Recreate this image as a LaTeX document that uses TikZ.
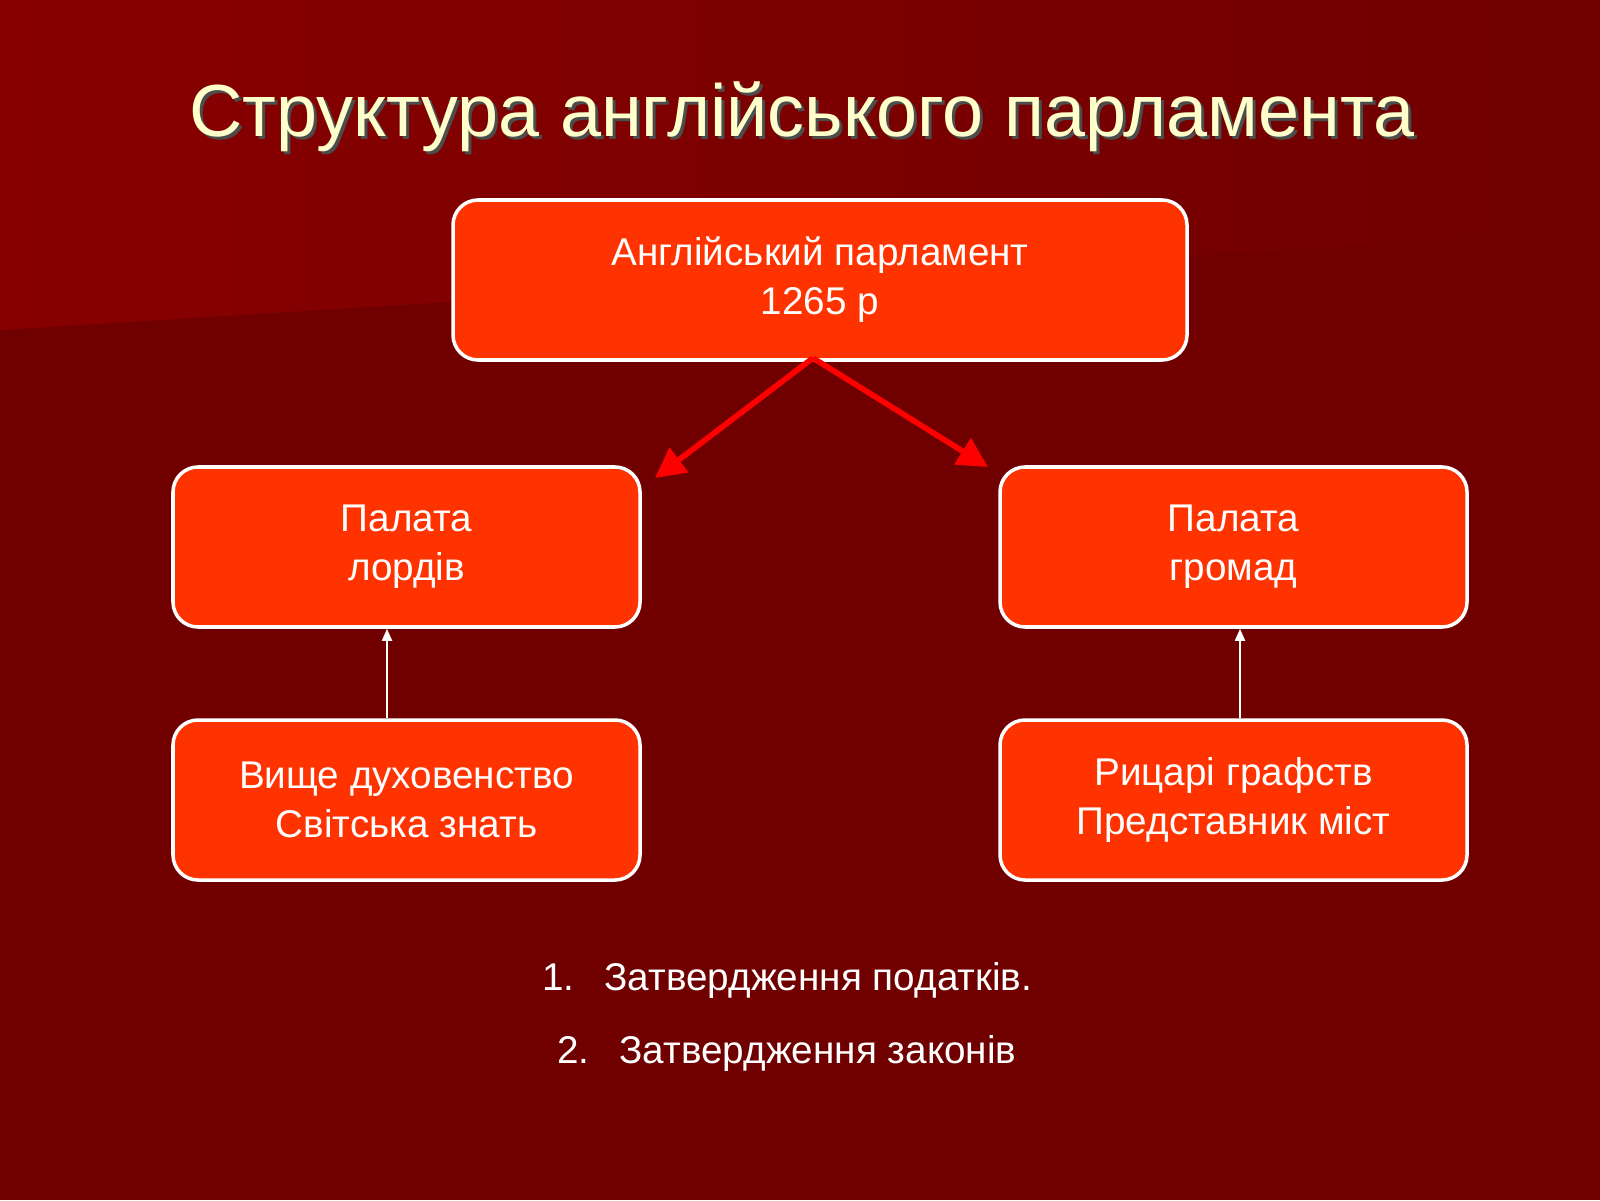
\documentclass[tikz,border=0pt]{standalone}
\usepackage{fontspec}
\setmainfont{Liberation Sans}
\usetikzlibrary{arrows.meta,shadings}
\definecolor{bg}{HTML}{700000}
\definecolor{bgl}{HTML}{880000}
\definecolor{boxc}{HTML}{FF3300}
\definecolor{titc}{HTML}{FFFFCC}
\tikzset{
 box/.style={draw=white,line width=1pt,fill=boxc,rounded corners=0.25cm,minimum width=4.67cm,minimum height=1.6cm,text=white,font=\fontsize{11}{14}\selectfont,align=center},
 redarr/.style={draw={rgb,255:red,255;green,0;blue,0},line width=1.6pt,-{Triangle[length=0.3cm,width=0.3cm]}},
 whitearr/.style={draw=white,line width=0.5pt,-{Triangle[length=0.12cm,width=0.1cm]}},
 listtxt/.style={text=white,font=\fontsize{11}{14}\selectfont,anchor=west}
}
\begin{document}
\begin{tikzpicture}
\useasboundingbox (0,0) rectangle (16,12);
\fill[bg] (0,0) rectangle (16,12);
\shade[left color=bgl,right color=bg] (0,12) -- (0,8.7) -- (16,9.7) -- (16,12) -- cycle;
\node[text=black!70,font=\fontsize{21}{25}\selectfont] at (8.05,10.8) {Структура англійського парламента};
\node (title) [text=titc,font=\fontsize{21}{25}\selectfont] at (8.02,10.83) {Структура англійського парламента};
\node (top) [box,minimum width=7.34cm] at (8.2,9.2) {Англійський парламент\\1265 р};
\node (lm) [box] at (4.065,6.53) {Палата\\ лордів};
\node (rm) [box] at (12.335,6.53) {Палата\\ громад};
\node (lb) [box] at (4.065,4.0) {Вище духовенство\\Світська знать};
\node (rb) [box] at (12.335,4.0) {Рицарі графств\\Представник міст};
\coordinate (ap) at (8.13,8.42);
\coordinate (al) at (6.55,7.22);
\coordinate (ar) at (9.88,7.33);
\draw[redarr] (ap) -- (al);
\draw[redarr] (ap) -- (ar);
\draw[whitearr] (lb.north -| 3.87,0) -- (lm.south -| 3.87,0);
\draw[whitearr] (rb.north -| 12.4,0) -- (rm.south -| 12.4,0);
\node (l1) [listtxt] at (5.3,2.2) {1.\hspace{0.3cm}Затвердження податків.};
\node (l2) [listtxt] at (5.45,1.47) {2.\hspace{0.3cm}Затвердження законів};
\end{tikzpicture}
\end{document}
